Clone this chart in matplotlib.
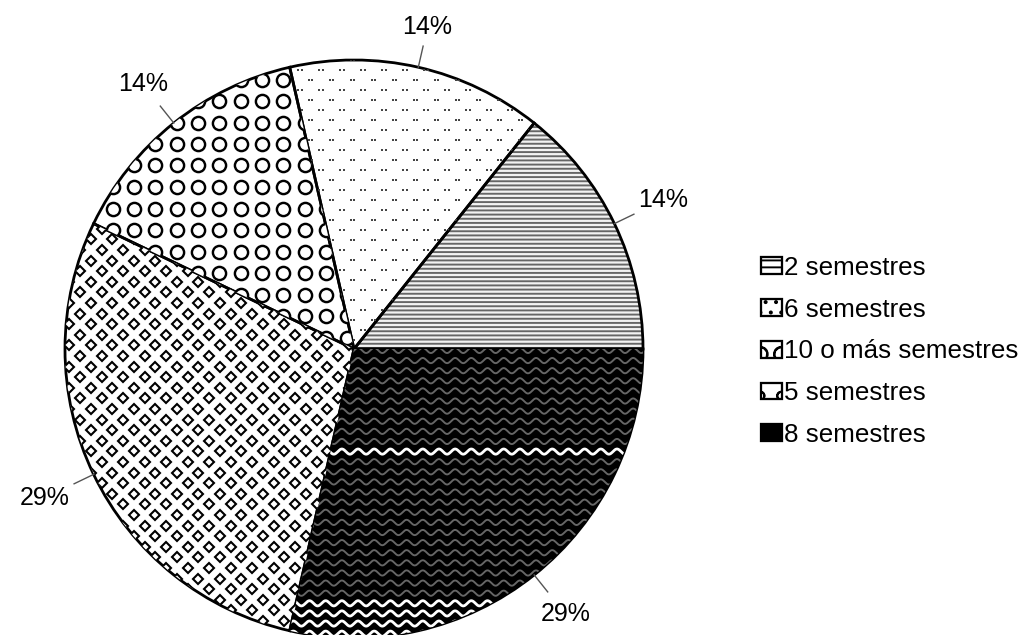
import numpy as np
import matplotlib
matplotlib.use("Agg")
import matplotlib.pyplot as plt
from matplotlib.patches import Patch

# semestres de duración por categoría (fracción de respuestas)
labels = ["2 semestres", "6 semestres", "10 o más semestres", "5 semestres", "8 semestres"]
values = [1, 1, 1, 2, 2]
pct_text = ["14%", "14%", "14%", "29%", "29%"]

face_cols = ["#f2f2f2", "white", "white", "white", "black"]

plt.rcParams["font.family"] = ["Liberation Sans", "DejaVu Sans"]
plt.rcParams["hatch.linewidth"] = 1.1

DPI = 125
PX = 1 / 289.0          # un píxel en unidades del radio
fig = plt.figure(figsize=(1031 / DPI, 635 / DPI), dpi=DPI)
ax = fig.add_axes([65 / 1031, -3 / 635, 578 / 1031, 578 / 635])

wedges, _ = ax.pie(values, startangle=0, counterclock=True, radius=1,
                   wedgeprops=dict(linewidth=0))
for w, fc in zip(wedges, face_cols):
    w.set_facecolor(fc)
    w.set_linewidth(0)
# rayado horizontal gris para "2 semestres"
wedges[0].set_edgecolor("#666666")
wedges[0].set_hatch("-----")


def lattice(wedge, dx, dy, x0, y0, stagger, **kw):
    """Trama de marcadores recortada al sector."""
    pts_x, pts_y = [], []
    for r in np.arange(-40, 40):
        yy = y0 + r * dy
        if abs(yy) > 1.05:
            continue
        shift = dx / 2 if (stagger and r % 2) else 0
        xx = x0 + shift + np.arange(-60, 60) * dx
        xx = xx[np.abs(xx) < 1.05]
        pts_x.extend(xx)
        pts_y.extend([yy] * len(xx))
    ln, = ax.plot(pts_x, pts_y, linestyle="none", **kw)
    ln.set_clip_path(wedge)
    return ln


# "6 semestres": pares de puntos grises
for dxp in (-1.6, 1.6):
    lattice(wedges[1], 21 * PX, 10 * PX, (300 - 354 + dxp) * PX, (349 - 70) * PX, True,
            marker="s", markersize=1.3, color="#444444", markeredgewidth=0)

# "10 o más semestres": círculos grandes
lattice(wedges[2], 21.3 * PX, 21.5 * PX, (198 - 354) * PX, (349 - 101) * PX, False,
        marker="o", markersize=7.6, markerfacecolor="white",
        markeredgecolor="black", markeredgewidth=1.4)

# "5 semestres": rombos pequeños
lattice(wedges[3], 21.5 * PX, 10.6 * PX, (80 - 354) * PX, (349 - 250) * PX, True,
        marker="D", markersize=3.8, markerfacecolor="white",
        markeredgecolor="black", markeredgewidth=1.2)

# "8 semestres": ondas sobre fondo negro
xs = np.linspace(-1.05, 1.05, 1500)
for yw in np.arange(-1.02, 0.02, 0.035):
    col, lw = "#666666", 1.1
    if abs(yw + 0.367) < 0.015 or yw < -0.86:
        col, lw = "white", 1.6
    ln, = ax.plot(xs, yw + 0.009 * np.sin(2 * np.pi * xs / 0.056), color=col, lw=lw)
    ln.set_clip_path(wedges[4])

# contornos negros
ax.pie(values, startangle=0, counterclock=True, radius=1,
       wedgeprops=dict(facecolor="none", edgecolor="black", linewidth=1.6))

# etiquetas de porcentaje con línea guía
total = sum(values)
start = 0.0
for v, t in zip(values, pct_text):
    mid = np.deg2rad(start + 360 * v / total / 2)
    start += 360 * v / total
    c, s = np.cos(mid), np.sin(mid)
    ax.plot([c, 1.075 * c], [s, 1.075 * s], color="#555555", lw=0.8, clip_on=False)
    r = 1.075 + (abs(c) * 26 + abs(s) * 9 + 5) * PX
    ax.text(r * c, r * s, t, ha="center", va="center", fontsize=14.4)

ax.set_xlim(-1, 1)
ax.set_ylim(-1, 1)
ax.set_aspect("equal")
ax.axis("off")

handles = [
    Patch(facecolor="white", edgecolor="black", hatch="---", linewidth=1.3),
    Patch(facecolor="white", edgecolor="black", hatch="..", linewidth=1.3),
    Patch(facecolor="white", edgecolor="black", hatch="O", linewidth=1.3),
    Patch(facecolor="white", edgecolor="black", hatch="o", linewidth=1.3),
    Patch(facecolor="black", edgecolor="black", linewidth=1.3),
]

fig.legend(handles, labels, loc="upper left", bbox_to_anchor=(761 / 1031, 1 - 256 / 635),
           frameon=False, fontsize=15, handlelength=0.8, handleheight=0.62,
           handletextpad=0.1, labelspacing=0.68, borderaxespad=0, borderpad=0)

fig.savefig("out.png", dpi=DPI)
